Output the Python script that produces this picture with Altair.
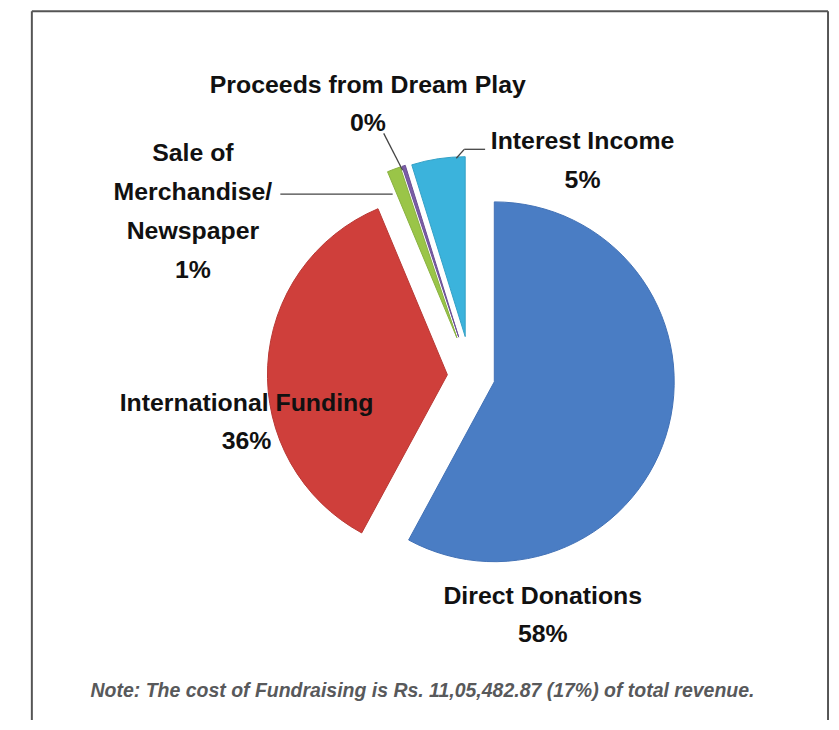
import math
import altair as alt
import pandas as pd

# ---------------- data ----------------
categories = ["Direct Donations", "International Funding", "Sale of Merchandise/Newspaper",
              "Proceeds from Dream Play", "Interest Income"]
values = [57.9, 35.8, 1.2, 0.3, 4.8]
label_lines = [["Direct Donations"], ["International Funding"], ["Sale of", "Merchandise/", "Newspaper"],
               ["Proceeds from Dream Play"], ["Interest Income"]]
note_text = "Note: The cost of Fundraising is Rs. 11,05,482.87 (17%) of total revenue."

# ---------------- style / layout ----------------
colors = ["#4a7dc4", "#cf3f3b", "#9ac548", "#7b5ea7", "#3bb3dc"]
strokes = ["#4271b5", "#b83733", "#88b03e", "#6a4f94", "#33a0c6"]
explode = [24, 24, 41, 41, 40]
CX, CY, R = 466, 368, 181
W, H = 828, 712
FONT = "Liberation Sans, Arial, sans-serif"

# label anchor (centre x, centre y of first line), line spacing
label_pos = [(538, 589), (240, 395), (186, 144), (362, 75), (578, 132)]
LINE = 39

# ---------------- slices ----------------
total = sum(values)
rows = []
acc = 0.0
for cat, v, ex in zip(categories, values, explode):
    a0 = acc / total * 2 * math.pi
    acc += v
    a1 = acc / total * 2 * math.pi
    mid = (a0 + a1) / 2
    rows.append(dict(category=cat, value=v, a0=a0, a1=a1,
                     px=CX + ex * math.sin(mid), py=CY - ex * math.cos(mid)))
slices = pd.DataFrame(rows)

pie = alt.Chart(slices).mark_arc(outerRadius=R, strokeWidth=1).encode(
    theta=alt.Theta("a0:Q", scale=None, stack=None),
    theta2="a1:Q",
    x=alt.X("px:Q", scale=None, axis=None),
    y=alt.Y("py:Q", scale=None, axis=None),
    color=alt.Color("category:N", scale=alt.Scale(domain=categories, range=colors), legend=None),
    stroke=alt.Stroke("category:N", scale=alt.Scale(domain=categories, range=strokes), legend=None),
)

# ---------------- labels ----------------
lab_rows = []
for lines, v, (lx, ly) in zip(label_lines, values, label_pos):
    allines = lines + [f"{round(v)}%"]
    for i, t in enumerate(allines):
        lab_rows.append(dict(text=t, lx=lx, ly=ly + i * LINE))
labels = alt.Chart(pd.DataFrame(lab_rows)).mark_text(
    font=FONT, fontSize=25, fontWeight="bold", color="#111111", baseline="middle", align="center"
).encode(
    x=alt.X("lx:Q", scale=None, axis=None),
    y=alt.Y("ly:Q", scale=None, axis=None),
    text="text:N",
)

# leader lines
leaders = pd.DataFrame([
    dict(x=378, y=124, x2=397, y2=161),
    dict(x=451, y=149, x2=459, y2=140),
    dict(x=459, y=140, x2=480, y2=140),
    dict(x=274, y=185, x2=387, y2=185),
])
leader = alt.Chart(leaders).mark_rule(color="#444444", strokeWidth=1.3).encode(
    x=alt.X("x:Q", scale=None, axis=None), y=alt.Y("y:Q", scale=None, axis=None),
    x2="x2:Q", y2="y2:Q",
)

# note
note = alt.Chart(pd.DataFrame([dict(text=note_text)])).mark_text(
    font=FONT, fontSize=19.6, fontWeight="bold", fontStyle="italic", color="#58595b",
    align="center", baseline="middle"
).encode(x=alt.value(417), y=alt.value(685), text="text:N")

# frame (open at the bottom)
frame_df = pd.DataFrame([
    dict(x=24, y=1, x2=825, y2=1),
    dict(x=24, y=1, x2=24, y2=H + 20),
    dict(x=825, y=1, x2=825, y2=H + 20),
])
frame = alt.Chart(frame_df).mark_rule(color="#555555", strokeWidth=2).encode(
    x=alt.X("x:Q", scale=None, axis=None), y=alt.Y("y:Q", scale=None, axis=None),
    x2="x2:Q", y2="y2:Q",
)

chart = alt.layer(frame, pie, leader, labels, note).properties(
    width=W, height=H, padding=0, autosize=alt.AutoSizeParams(type="none"),
    background="white",
).configure_view(stroke=None)

chart.save("out.html", embed_options={"renderer": "svg", "actions": False})
